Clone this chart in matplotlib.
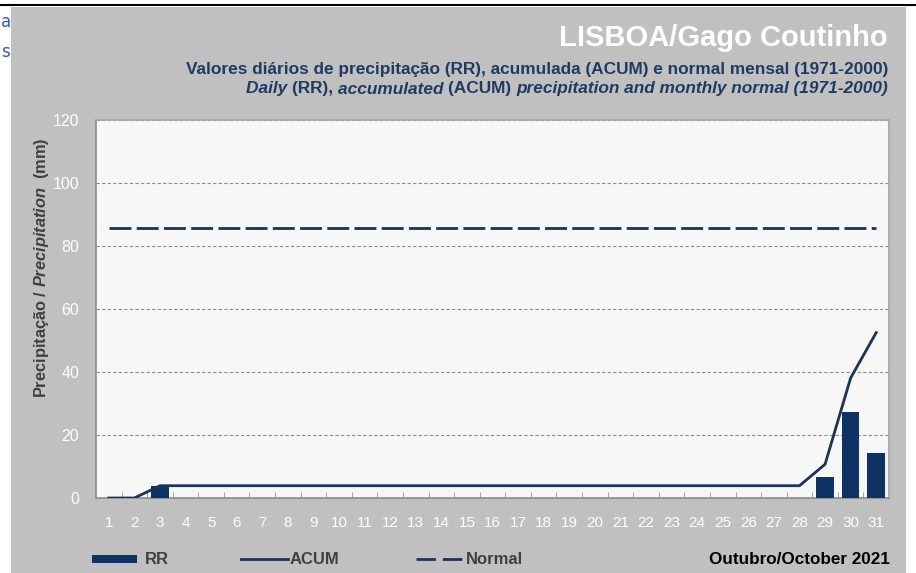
import numpy as np
import matplotlib
matplotlib.use("Agg")
import matplotlib.pyplot as plt
from matplotlib.patches import Rectangle
from matplotlib.lines import Line2D
from matplotlib.text import Annotation

# data (Lisboa/Gago Coutinho, October 2021)
days = list(range(1, 32))
rr = [0.0, 0.0, 3.9] + [0.0] * 25 + [6.8, 27.4, 14.4]
acum = list(np.cumsum(rr))
normal = 85.7
y_ticks = [0, 20, 40, 60, 80, 100, 120]

NAVY = "#0d3263"
LINE = "#1b3358"
SUB = "#1f3b63"
GREY_BG = "#c0c0c0"
TXT = "#404040"

plt.rcParams["font.family"] = ["Liberation Sans", "DejaVu Sans"]
plt.rcParams["mathtext.fontset"] = "custom"
plt.rcParams["mathtext.rm"] = "Liberation Sans:bold"
plt.rcParams["mathtext.it"] = "Liberation Sans:italic:bold"

W, H = 916, 573
fig = plt.figure(figsize=(W / 100, H / 100), dpi=100)
fig.patch.set_facecolor("white")

def fx(px):
    return px / W

def fy(py):
    return 1 - py / H

# grey panel + top black rule (screenshot frame)
fig.patches.append(Rectangle((fx(11), 0), fx(906 - 11), fy(7), transform=fig.transFigure,
                             facecolor=GREY_BG, edgecolor="none", zorder=-5))
fig.lines.append(Line2D([0, 1], [fy(5), fy(5)], transform=fig.transFigure, color="black", lw=1.5))
fig.text(fx(1), fy(22), "a", color="#3355cc", fontsize=12, va="center", family="DejaVu Sans")
fig.text(fx(1), fy(52), "s", color="#3355cc", fontsize=12, va="center", family="DejaVu Sans")

ax = fig.add_axes([fx(96), fy(498), fx(889 - 96), (498 - 120) / H])
ax.set_zorder(2)
ax.set_facecolor("#f7f7f7")

ax.bar(days, rr, width=0.69, color=NAVY, zorder=3)
ax.plot(days, acum, color=LINE, lw=2, zorder=4)
ax.plot(days, [normal] * len(days), color=LINE, lw=2, dashes=(7.9, 1.9), zorder=4)

ax.set_xlim(0.5, 31.5)
ax.set_ylim(0, 120)
ax.set_yticks(y_ticks)
ax.set_yticklabels([str(v) for v in y_ticks], color="white", fontsize=11.5)
ax.set_xticks(days)
ax.set_xticklabels([str(d) for d in days], color="white", fontsize=11)
ax.set_xticks(np.arange(1.5, 31.5, 1), minor=True)
ax.tick_params(axis="x", which="major", length=0, pad=13)
ax.tick_params(axis="x", which="minor", length=4, direction="in", color="#909090")
ax.tick_params(axis="y", length=0, pad=12)
ax.grid(axis="y", color="#8c8c8c", lw=0.8, dashes=(3, 2))
for s in ax.spines.values():
    s.set_color("#a6a6a6")
    s.set_linewidth(1.2)
ax.spines["left"].set_color("#8c8c8c")
ax.spines["bottom"].set_color("#8c8c8c")

# y label sits a little above the axis centre, as in the original
fig.text(fx(42), fy(268), r"Precipitação / $\mathit{Precipitation}$  (mm)", color=TXT,
         fontsize=11.8, fontweight="bold", rotation=90, ha="center", va="center")

# titles
fig.text(fx(888), fy(38), "LISBOA/Gago Coutinho", color="white", fontsize=21,
         fontweight="bold", ha="right", va="center")
fig.text(fx(888), fy(70), "Valores diários de precipitação (RR), acumulada (ACUM) e normal mensal (1971-2000)",
         color=SUB, fontsize=12.4, fontweight="bold", ha="right", va="center")

# second subtitle line mixes italic and upright pieces, chained right to left
pieces = [("Daily ", "italic"), ("(RR), ", "normal"), ("accumulated ", "italic"),
          ("(ACUM) ", "normal"), ("precipitation and monthly normal (1971-2000)", "italic")]
anchor = fig.text(fx(888), fy(89), pieces[-1][0], color=SUB, fontsize=12.4, fontweight="bold",
                  style=pieces[-1][1], ha="right", va="center")
for txt, st in reversed(pieces[:-1]):
    anchor = fig.add_artist(Annotation(
        txt, xy=(0, 0.5), xycoords=anchor, ha="right", va="center",
        color=SUB, fontsize=12.4, fontweight="bold", style=st))

# legend drawn by hand
fig.patches.append(Rectangle((fx(92), fy(563)), fx(45), 8 / H, transform=fig.transFigure,
                             facecolor=NAVY, edgecolor="none"))
fig.text(fx(145), fy(559), "RR", color=TXT, fontsize=12, fontweight="bold", va="center")
fig.lines.append(Line2D([fx(241), fx(288)], [fy(559), fy(559)], transform=fig.transFigure,
                        color=LINE, lw=2))
fig.text(fx(290), fy(559), "ACUM", color=TXT, fontsize=12, fontweight="bold", va="center")
fig.lines.append(Line2D([fx(416), fx(463)], [fy(559), fy(559)], transform=fig.transFigure,
                        color=LINE, lw=2, dashes=(7, 2.5)))
fig.text(fx(466), fy(559), "Normal", color=TXT, fontsize=12, fontweight="bold", va="center")
fig.text(fx(890), fy(559), "Outubro/October 2021", color="black", fontsize=12.3,
         fontweight="bold", ha="right", va="center")

fig.savefig("out.png", dpi=100, facecolor=fig.get_facecolor())
